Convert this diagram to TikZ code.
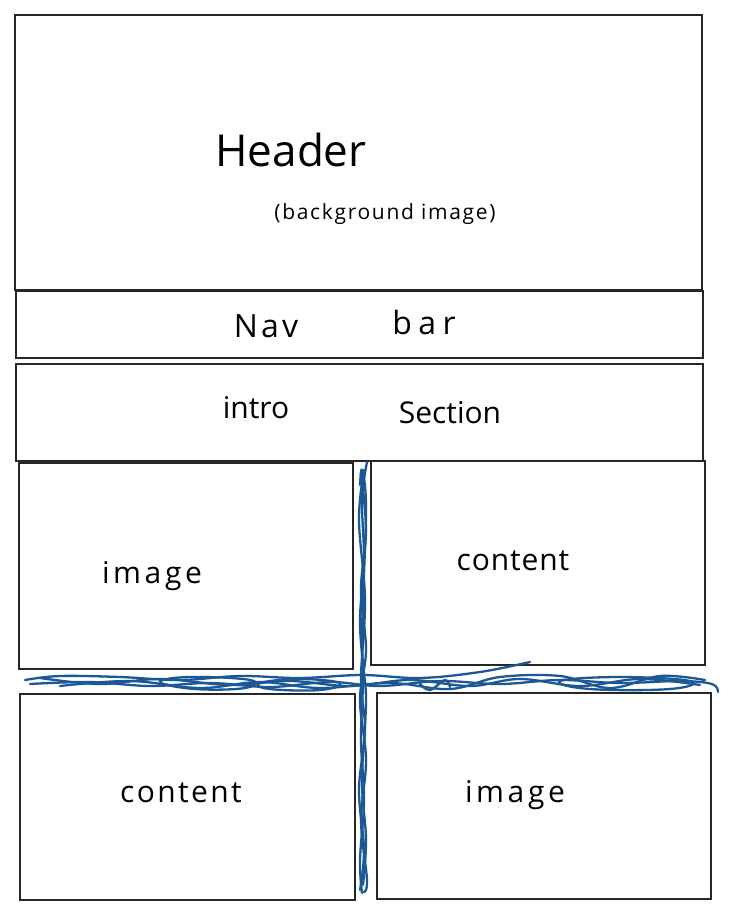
\documentclass[tikz,border=0pt]{standalone}
\usepackage{fontspec}
\setmainfont{Open Sans}
\begin{document}
\begin{tikzpicture}[x=1pt,y=-1pt,
  panel/.style={draw=black!85,line width=1.6pt},
  label/.style={font=\fontsize{30}{32}\selectfont,inner sep=0pt},
  wide/.style={font=\fontsize{30}{32}\selectfont\addfontfeatures{LetterSpace=12},inner sep=0pt},
  small/.style={font=\fontsize{21}{23}\selectfont\addfontfeatures{LetterSpace=8},inner sep=0pt},
  scribble/.style={draw={rgb,255:red,28;green,88;blue,150},line width=2.3pt,line cap=round,line join=round}]
\useasboundingbox (0,0) rectangle (730,914);
\fill[white] (0,0) rectangle (730,914);

% page sections
\draw[panel] (15,15) rectangle (702,290);
\draw[panel] (16,291) rectangle (703,358);
\draw[panel] (16,364) rectangle (703,461);
\draw[panel] (19,463) rectangle (353,669);
\draw[panel] (371,461) rectangle (705,665);
\draw[panel] (20,694) rectangle (355,900);
\draw[panel] (377,693) rectangle (711,899);

% labels
\node[label,font=\fontsize{44}{46}\selectfont] (hdr) at (291,150) {Header};
\node[small] (bg) at (385,214) {(background image)};
\node[wide,font=\fontsize{32}{34}\selectfont\addfontfeatures{LetterSpace=10}] (nav) at (266,326) {Nav};
\node[wide,font=\fontsize{32}{34}\selectfont\addfontfeatures{LetterSpace=20}] (bar) at (424,322) {bar};
\node[label] (intro) at (256,408) {intro};
\node[label] (sect) at (450,413) {Section};
\node[wide] (img1) at (152,576) {image};
\node[label,font=\fontsize{30}{32}\selectfont\addfontfeatures{LetterSpace=3}] (cnt1) at (513,561) {content};
\node[wide,font=\fontsize{30}{32}\selectfont\addfontfeatures{LetterSpace=8}] (cnt2) at (181,793) {content};
\node[wide] (img2) at (515,795) {image};

% hand-drawn separators
\draw[scribble] plot[smooth,tension=0.6] coordinates {(25,680) (60,676) (120,677) (180,680) (240,676) (300,678) (362,675) (420,678) (480,672) (530,662)};
\draw[scribble] plot[smooth,tension=0.6] coordinates {(30,684) (90,682) (150,686) (210,683) (270,687) (330,682) (380,686) (440,681) (500,684) (560,680) (620,683) (680,681) (712,684) (718,692)};
\draw[scribble] plot[smooth,tension=0.6] coordinates {(40,678) (100,684) (160,679) (230,685) (290,681) (350,686) (410,680) (470,686) (520,679) (580,686) (640,679) (700,685)};
\draw[scribble] plot[smooth,tension=0.6] coordinates {(60,686) (130,681) (200,688) (260,682) (320,688) (390,683) (450,689) (500,677) (560,676) (610,688) (660,676) (705,680)};
\draw[scribble] plot[smooth cycle,tension=0.7] coordinates {(160,682) (190,677) (250,680) (245,688) (195,689)};
\draw[scribble] plot[smooth cycle,tension=0.7] coordinates {(260,683) (300,679) (340,683) (320,690) (270,689)};
\draw[scribble] plot[smooth cycle,tension=0.7] coordinates {(560,681) (620,677) (690,681) (670,689) (590,689)};
\draw[scribble] plot[smooth,tension=0.6] coordinates {(420,684) (430,690) (445,680) (450,687)};

\draw[scribble] plot[smooth,tension=0.6] coordinates {(367,462) (362,500) (364,560) (360,620) (363,675) (361,740) (364,800) (360,860) (362,893)};
\draw[scribble] plot[smooth,tension=0.6] coordinates {(361,475) (366,530) (361,590) (366,650) (360,700) (366,760) (361,820) (367,880) (364,892)};
\draw[scribble] plot[smooth,tension=0.6] coordinates {(364,470) (359,520) (365,600) (361,680) (365,730) (359,790) (364,850) (360,890)};
\draw[scribble] plot[smooth,tension=0.6] coordinates {(360,485) (362,470) (366,510) (362,640) (366,700) (362,780) (366,840) (363,885)};
\end{tikzpicture}
\end{document}
